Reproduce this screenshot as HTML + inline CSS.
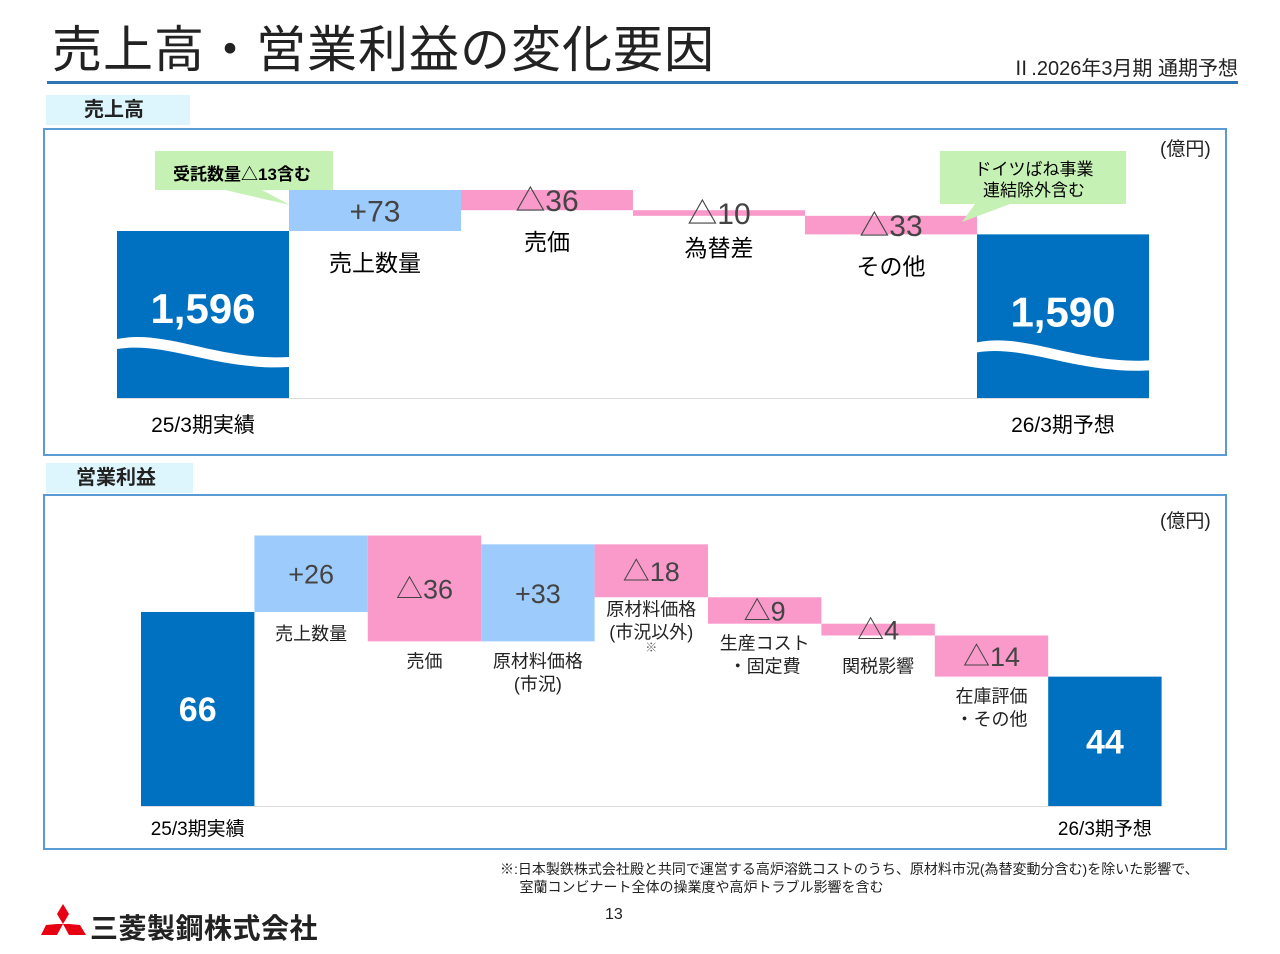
<!DOCTYPE html>
<html><head><meta charset="utf-8"><style>
body{margin:0;width:1280px;height:954px;background:#fff;position:relative;overflow:hidden;font-family:"Liberation Sans","Noto Sans CJK JP",sans-serif;color:#222}
.a{position:absolute;white-space:nowrap}
.tab{position:absolute;background:#DDF6FD;font-weight:bold;font-size:20px;line-height:30px;padding-left:38px;box-sizing:border-box}
.box{position:absolute;border:2px solid #5B9BD5;box-sizing:border-box}
svg text{font-family:"Liberation Sans","Noto Sans CJK JP",sans-serif}
</style></head><body>
<div class="a" style="left:52px;top:20px;font-size:50px;line-height:60px;letter-spacing:1px">売上高・営業利益の変化要因</div>
<div class="a" style="left:47px;top:81px;width:1191px;height:3px;background:#2E75B6"></div>
<div class="a" style="right:42px;top:52px;font-size:20px">Ⅱ.2026年3月期 通期予想</div>
<div class="tab" style="left:46px;top:95px;width:144px;height:30px">売上高</div>
<div class="box" style="left:43px;top:128px;width:1184px;height:328px"></div>
<div class="tab" style="left:46px;top:463px;width:147px;height:30px;padding-left:30px">営業利益</div>
<div class="box" style="left:43px;top:494px;width:1184px;height:356px"></div>
<div class="a" style="left:1160px;top:134px;font-size:19px">(億円)</div>
<div class="a" style="left:1160px;top:506px;font-size:19px">(億円)</div>
<svg class="a" style="left:0;top:0" width="1280" height="954" id="chart"></svg>
<div class="a" style="left:500px;top:860px;font-size:14px;line-height:18px">※:日本製鉄株式会社殿と共同で運営する高炉溶銑コストのうち、原材料市況(為替変動分含む)を除いた影響で、<br>&nbsp;&nbsp;&nbsp;&nbsp;&nbsp;室蘭コンビナート全体の操業度や高炉トラブル影響を含む</div>
<div class="a" style="left:605px;top:906px;font-size:16px">13</div>
<svg class="a" style="left:40px;top:904px" width="48" height="42"><polygon points="23,0 29,10 23,20 17,10" fill="#E60012"/><polygon points="17,20 23,20 17,31 1,31 6,21" fill="#E60012"/><polygon points="29,20 40,21 46,31 29,31 23,20" fill="#E60012"/></svg>
<div class="a" style="left:90px;top:913px;font-size:28px;font-weight:bold;line-height:32px;letter-spacing:0.5px">三菱製鋼株式会社</div>
<script>
const NS='http://www.w3.org/2000/svg';
const svg=document.getElementById('chart');
// sales data
const salesCats=['25/3期実績','売上数量','売価','為替差','その他','26/3期予想'];
const salesVals=[1596,73,-36,-10,-33,1590];
const salesValLabels=['1,596','+73','△36','△10','△33','1,590'];
// operating profit data
const opCats=['25/3期実績','売上数量','売価','原材料価格|(市況)','原材料価格|(市況以外)|※','生産コスト|・固定費','関税影響','在庫評価|・その他','26/3期予想'];
const opVals=[66,26,-36,33,-18,-9,-4,-14,44];
const opValLabels=['66','+26','△36','+33','△18','△9','△4','△14','44'];
const opLabelGap=[0,22,20,20,12,20,31,20,0];
function el(t,a,txt){const e=document.createElementNS(NS,t);for(const k in a)e.setAttribute(k,a[k]);if(txt!==undefined)e.textContent=txt;svg.appendChild(e);return e;}
const DARK='#0070C0',UP='#9DCBFB',DN='#FA9ACB';
// ---- sales chart (broken axis)
{const x0=117,w=172,base=398,ref=1596,refY=231,k=0.562;
 const y=v=>refY-(v-ref)*k;
 el('line',{x1:x0,x2:x0+w*6,y1:base+0.5,y2:base+0.5,stroke:'#ddd'});
 let run=0;
 salesVals.forEach((v,i)=>{const x=x0+i*w;let r;
  if(i===0||i===salesVals.length-1){const top=y(v);
   r=el('rect',{x:x,y:top,width:w,height:base-top,fill:DARK});
   
   const wy=top+108;
   const wv=el('path',{d:`M${x} ${wy} C${x+50} ${wy-10} ${x+100} ${wy+22} ${x+w} ${wy+18} L${x+w} ${wy+28} C${x+100} ${wy+32} ${x+50} ${wy+2} ${x} ${wy+10}Z`,fill:'#fff'});
   
   const t=el('text',{x:x+w/2,y:top+92,'text-anchor':'middle','font-size':42,'font-weight':'bold',fill:'#fff'},salesValLabels[i]);
   
   const c=el('text',{x:x+w/2,y:base+34,'text-anchor':'middle','font-size':21},salesCats[i]);
   
   run=v;
  } else {const a=y(run),b=y(run+v);run+=v;const top=Math.min(a,b),bot=Math.max(a,b);
   r=el('rect',{x:x,y:top,width:w,height:bot-top,fill:v>0?UP:DN});
   
   const t=el('text',{x:x+w/2,y:(top+bot)/2+11,'text-anchor':'middle','font-size':30,fill:'#444'},salesValLabels[i]);
   
   const c=el('text',{x:x+w/2,y:bot+40,'text-anchor':'middle','font-size':23},salesCats[i]);
   }
 });
 // callouts
 const c1=el('path',{d:'M155 151 H333 V190 H262 L290 205 L225 190 H155Z',fill:'#C6F1B4'});
 
 const c1t=el('text',{x:242,y:180,'text-anchor':'middle','font-size':17,'font-weight':'bold'},'受託数量△13含む');
 
 const c2=el('path',{d:'M940 151 H1126 V204 H1010 L962 222 L975 204 H940Z',fill:'#C6F1B4'});
 
 const c2a=el('text',{x:1034,y:175,'text-anchor':'middle','font-size':17},'ドイツばね事業');
 
 const c2b=el('text',{x:1034,y:196,'text-anchor':'middle','font-size':17},'連結除外含む');
 
}
// ---- operating profit chart
{const x0=141,w=113.4,base=806,k=2.94;
 const y=v=>base-v*k;
 el('line',{x1:x0,x2:x0+w*9,y1:base+0.5,y2:base+0.5,stroke:'#ddd'});
 let run=0;
 opVals.forEach((v,i)=>{const x=x0+i*w;
  if(i===0||i===opVals.length-1){const top=y(v);
   const r=el('rect',{x:x,y:top,width:w,height:base-top,fill:DARK});
   
   const t=el('text',{x:x+w/2,y:(top+base)/2+12,'text-anchor':'middle','font-size':34,'font-weight':'bold',fill:'#fff'},opValLabels[i]);
   
   const c=el('text',{x:x+w/2,y:base+29,'text-anchor':'middle','font-size':19},opCats[i]);
   
   run=v;
  } else {const a=y(run),b=y(run+v);run+=v;const top=Math.min(a,b),bot=Math.max(a,b);
   const r=el('rect',{x:x,y:top,width:w,height:bot-top,fill:v>0?UP:DN});
   
   const t=el('text',{x:x+w/2,y:(top+bot)/2+10,'text-anchor':'middle','font-size':27,fill:'#444'},opValLabels[i]);
   
   opCats[i].split('|').forEach((ln,j)=>{const small=ln==='※';
    const c=el('text',{x:x+w/2,y:bot+opLabelGap[i]+6+j*(small?18:23),'text-anchor':'middle','font-size':small?12:18,fill:small?'#666':'#222'},ln);
    });
  }
 });
}
</script>
</body></html>
